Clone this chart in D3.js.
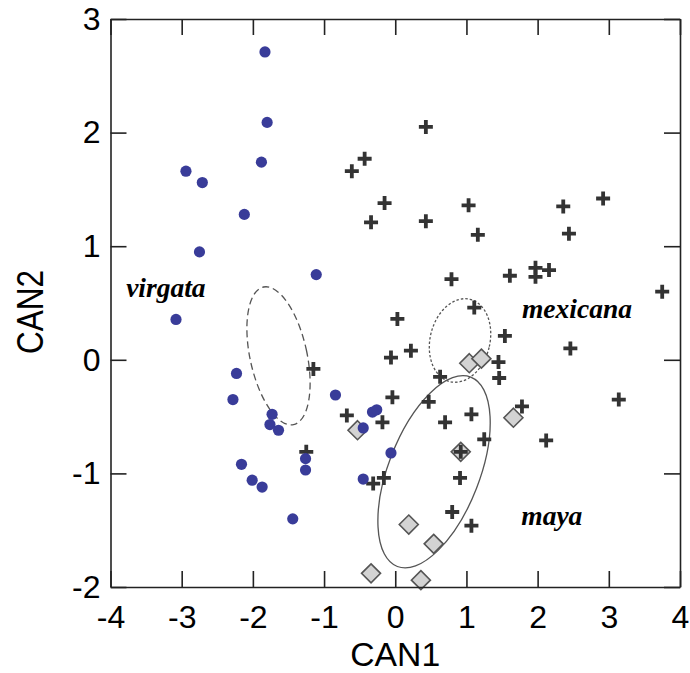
<!DOCTYPE html>
<html>
  <head>
    <meta charset="utf-8">
    <script src="https://cdnjs.cloudflare.com/ajax/libs/d3/7.8.5/d3.min.js"></script>
    <style>
      body { margin: 0; background: #fff; }
    </style>
  </head>

<body>

  <div id="chartContainer"></div>

  <script type="text/javascript">

      // canonical scores per group [CAN1, CAN2]
      var virgata = [
        [-1.83, 2.71], [-1.80, 2.09], [-1.88, 1.74], [-2.94, 1.66], [-2.71, 1.56],
        [-2.12, 1.28], [-2.75, 0.95], [-1.11, 0.75], [-3.08, 0.355], [-2.23, -0.12],
        [-2.28, -0.35], [-1.73, -0.48], [-1.76, -0.57], [-1.64, -0.62], [-0.84, -0.31],
        [-0.32, -0.46], [-0.26, -0.44], [-0.45, -0.60], [-0.06, -0.82], [-1.26, -0.87],
        [-1.26, -0.97], [-2.16, -0.92], [-2.01, -1.06], [-1.87, -1.12], [-1.44, -1.40],
        [-0.45, -1.05]
      ];

      var mexicana = [
        [-0.61, 1.66], [-0.43, 1.77], [-0.15, 1.38], [-0.34, 1.21], [0.43, 2.05],
        [0.43, 1.22], [1.03, 1.36], [1.16, 1.10], [2.36, 1.35], [2.44, 1.11],
        [2.92, 1.42], [0.79, 0.71], [1.61, 0.74], [1.97, 0.81], [1.97, 0.73],
        [2.16, 0.79], [3.75, 0.60], [1.11, 0.46], [0.03, 0.36], [1.54, 0.21],
        [2.46, 0.10], [-0.06, 0.02], [0.22, 0.08], [1.45, -0.02], [1.46, -0.16],
        [0.63, -0.15], [-0.04, -0.33], [0.47, -0.37], [-0.68, -0.49], [-0.18, -0.55],
        [0.70, -0.55], [1.07, -0.48], [1.78, -0.41], [3.14, -0.35], [1.25, -0.70],
        [2.12, -0.71], [0.92, -0.81], [0.91, -1.04], [-0.16, -1.04], [-0.31, -1.09],
        [0.80, -1.34], [1.07, -1.46], [-1.15, -0.08], [-1.25, -0.81]
      ];

      var maya = [
        [1.04, -0.03], [1.21, 0.01], [1.66, -0.51], [-0.53, -0.62], [0.92, -0.81],
        [0.19, -1.45], [0.54, -1.62], [-0.34, -1.88], [0.36, -1.94]
      ];

      // ellipses: centre, half widths in data units, tilt in degrees
      var ellipseCentres = [[-1.64, 0.035], [0.91, 0.17], [0.545, -0.986]];
      var ellipseRadii = [[0.40, 0.62], [0.42, 0.373], [0.64, 0.894]];
      var ellipseTilt = [-12.3, 13.6, 21.2];
      var ellipseDash = ["7,4", "2.5,2", null];

      // group labels
      var labelText = ["virgata", "mexicana", "maya"];
      var labelPos = [[-3.78, 0.555], [1.78, 0.37], [1.77, -1.45]];

      var xTicks = [-4, -3, -2, -1, 0, 1, 2, 3, 4];
      var yTicks = [-2, -1, 0, 1, 2, 3];

      var width = 690, height = 673;
      var svg = d3.select("#chartContainer").append("svg")
        .attr("width", width)
        .attr("height", height);

      var x = d3.scaleLinear().domain([-4, 4]).range([110.5, 680]);
      var y = d3.scaleLinear().domain([-2, 3]).range([587, 19]);

      var tickLen = 16;
      var font = "Liberation Sans, Arial, sans-serif";

      // ellipses
      var ell = svg.append("g");
      ellipseCentres.forEach(function (c, i) {
        ell.append("ellipse")
          .attr("transform", "translate(" + x(c[0]) + "," + y(c[1]) + ") rotate(" + ellipseTilt[i] + ")")
          .attr("rx", x(c[0] + ellipseRadii[i][0]) - x(c[0]))
          .attr("ry", y(c[1]) - y(c[1] + ellipseRadii[i][1]))
          .attr("fill", "none")
          .attr("stroke", "#555")
          .attr("stroke-width", 1.3)
          .attr("stroke-dasharray", ellipseDash[i]);
      });

      // maya diamonds
      svg.append("g").selectAll("path")
        .data(maya)
        .enter()
        .append("path")
          .attr("transform", function (d) { return "translate(" + x(d[0]) + "," + y(d[1]) + ")"; })
          .attr("d", "M0,-9.5L9.5,0L0,9.5L-9.5,0Z")
          .attr("fill", "#d3d3d3")
          .attr("stroke", "#555")
          .attr("stroke-width", 1.6);

      // mexicana crosses
      svg.append("g").selectAll("path")
        .data(mexicana)
        .enter()
        .append("path")
          .attr("transform", function (d) { return "translate(" + x(d[0]) + "," + y(d[1]) + ")"; })
          .attr("d", "M-7,0H7M0,-7V7")
          .attr("stroke", "#333")
          .attr("stroke-width", 3.8);

      // virgata dots
      svg.append("g").selectAll("circle")
        .data(virgata)
        .enter()
        .append("circle")
          .attr("cx", function (d) { return x(d[0]); })
          .attr("cy", function (d) { return y(d[1]); })
          .attr("r", 5.6)
          .attr("fill", "#393c99");

      // frame and inward ticks on all four sides
      // plain hyphen for negatives, like the original
      var fmt = function (d) { return String(d); };

      svg.append("g")
        .attr("class", "labelled")
        .attr("transform", "translate(0," + y(-2) + ")")
        .call(d3.axisBottom(x).tickValues(xTicks).tickSizeInner(-tickLen).tickSizeOuter(0).tickPadding(18).tickFormat(fmt));
      svg.append("g")
        .attr("transform", "translate(0," + y(3) + ")")
        .call(d3.axisTop(x).tickValues(xTicks).tickSizeInner(-tickLen).tickSizeOuter(0).tickFormat(""));
      svg.append("g")
        .attr("class", "labelled")
        .attr("transform", "translate(" + x(-4) + ",0)")
        .call(d3.axisLeft(y).tickValues(yTicks).tickSizeInner(-tickLen).tickSizeOuter(0).tickPadding(10).tickFormat(fmt));
      svg.append("g")
        .attr("transform", "translate(" + x(4) + ",0)")
        .call(d3.axisRight(y).tickValues(yTicks).tickSizeInner(-tickLen).tickSizeOuter(0).tickFormat(""));

      svg.selectAll(".domain, .tick line")
        .attr("stroke", "#222")
        .attr("stroke-width", 1.6);
      svg.selectAll(".labelled .tick text")
        .style("font-family", font)
        .style("font-size", "32px")
        .attr("fill", "#000");

      // axis titles
      svg.append("text")
        .attr("x", x(0))
        .attr("y", 666)
        .attr("text-anchor", "middle")
        .attr("textLength", 90)
        .attr("lengthAdjust", "spacingAndGlyphs")
        .style("font-family", font)
        .style("font-size", "34px")
        .text("CAN1");

      svg.append("text")
        .attr("transform", "translate(43,312) rotate(-90)")
        .attr("text-anchor", "middle")
        .attr("textLength", 84)
        .attr("lengthAdjust", "spacingAndGlyphs")
        .style("font-family", font)
        .style("font-size", "36px")
        .text("CAN2");

      // group labels
      svg.append("g").selectAll("text")
        .data(labelText)
        .enter()
        .append("text")
          .attr("x", function (d, i) { return x(labelPos[i][0]); })
          .attr("y", function (d, i) { return y(labelPos[i][1]); })
          .style("font-family", "Liberation Serif, Times New Roman, serif")
          .style("font-style", "italic")
          .style("font-weight", "bold")
          .style("font-size", "27.5px")
          .text(function (d) { return d; });

  </script>

</body>
</html>
